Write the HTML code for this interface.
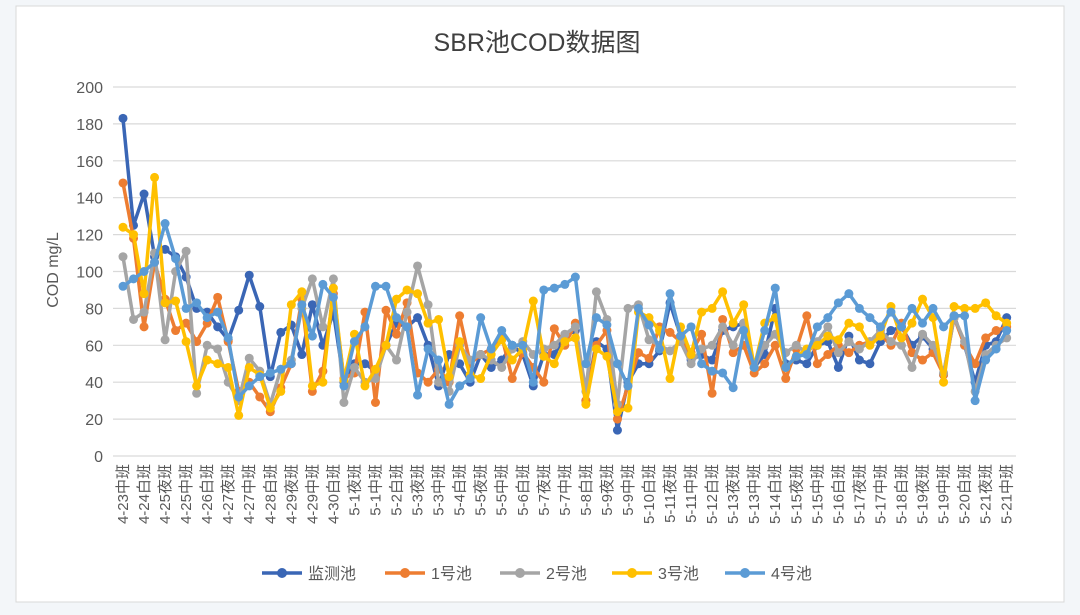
<!DOCTYPE html>
<html><head><meta charset="utf-8"><style>
html,body{margin:0;padding:0;background:#fff;}
body{width:1080px;height:615px;overflow:hidden;font-family:"Liberation Sans","Noto Sans CJK SC",sans-serif;}
</style></head><body>
<svg id="s" width="1080" height="615" xmlns="http://www.w3.org/2000/svg" style="position:absolute;left:0;top:0">
<rect x="0" y="0" width="1080" height="615" fill="#f3f6f9"/>
<rect x="16" y="6" width="1048" height="596" fill="#fff" stroke="#d9d9d9" stroke-width="1"/>
<text x="537" y="51" text-anchor="middle" font-size="25" fill="#404040" font-family="Liberation Sans,'Noto Sans CJK SC',sans-serif">SBR池COD数据图</text>
<text transform="translate(58,270) rotate(-90)" text-anchor="middle" font-size="16" fill="#595959" font-family="Liberation Sans,'Noto Sans CJK SC',sans-serif">COD mg/L</text>
<g id="g"></g>
</svg>
<script>
const NS="http://www.w3.org/2000/svg";
const g=document.getElementById('g');
function el(t,a,txt){const e=document.createElementNS(NS,t);for(const k in a)e.setAttribute(k,a[k]);if(txt!==undefined)e.textContent=txt;g.appendChild(e);return e;}
const y0=456,step=36.9/20;
const Y=v=>y0-v*step;
for(let v=0;v<=200;v+=20){
  el('line',{x1:113,x2:1016,y1:Y(v),y2:Y(v),stroke:'#d9d9d9','stroke-width':1.2});
  el('text',{x:103,y:Y(v)+6,'text-anchor':'end','font-size':16,fill:'#595959'},String(v));
}
const X=i=>123+i*10.52;
const D={
b:[183,125,142,108,112,108,97,80,78,70,63,79,98,81,43,67,71,55,82,60,78,40,50,50,46,60,72,70,75,60,38,55,50,40,55,48,52,60,55,38,55,55,65,68,30,62,58,14,40,50,50,57,83,65,52,55,52,68,70,72,48,55,80,50,52,50,60,62,48,65,52,50,62,68,70,60,65,58,44,76,60,40,60,62,75],
o:[148,118,70,105,85,68,72,62,72,86,62,35,40,32,24,37,50,85,35,46,88,42,45,78,29,79,66,83,45,40,47,40,76,50,55,58,65,42,56,48,40,69,60,72,30,60,68,20,38,56,53,70,67,62,56,66,34,74,56,60,45,50,60,42,58,76,50,55,60,56,60,62,66,60,72,56,52,56,44,75,60,50,64,68,70],
gr:[108,74,78,110,63,100,111,34,60,58,40,30,53,46,28,47,52,80,96,70,96,29,48,40,42,60,52,78,103,82,40,35,60,52,55,52,48,58,62,55,58,60,66,70,35,89,74,28,80,82,63,60,57,62,50,58,60,70,60,72,48,60,66,56,60,56,62,70,56,62,58,62,68,62,60,48,66,60,45,75,62,35,55,60,64],
y:[124,120,88,151,83,84,62,38,52,50,48,22,48,44,26,35,82,89,38,40,91,41,66,38,47,60,85,90,88,72,74,43,62,44,42,55,63,52,58,84,54,50,62,64,28,58,54,24,26,78,75,68,42,70,55,78,80,89,72,82,48,72,75,48,54,58,60,65,63,72,70,60,65,81,64,72,85,75,40,81,80,80,83,76,72],
l:[92,96,100,105,126,107,80,83,75,78,64,32,38,43,45,47,50,82,65,93,86,38,62,70,92,92,75,70,33,58,52,28,38,42,75,58,68,60,60,40,90,91,93,97,50,75,71,50,38,80,71,58,88,65,70,50,46,45,37,68,48,68,91,48,54,55,70,75,83,88,80,75,70,78,70,80,72,80,70,76,76,30,52,58,68]};
const C={o:'#ED7D31',gr:'#A5A5A5',y:'#FFC000',l:'#5B9BD5',b:'#3A66B5'};
['b','o','gr','y','l'].forEach(k=>{
  const pts=D[k].map((v,i)=>X(i).toFixed(1)+','+Y(v).toFixed(1)).join(' ');
  el('polyline',{points:pts,fill:'none',stroke:C[k],'stroke-width':3.5,'stroke-linejoin':'round'});
  D[k].forEach((v,i)=>el('circle',{cx:X(i),cy:Y(v),r:4.5,fill:C[k]}));
});
const labs=["4-23中班","4-24白班","4-25夜班","4-25中班","4-26白班","4-27夜班","4-27中班","4-28白班","4-29夜班","4-29中班","4-30白班","5-1夜班","5-1中班","5-2白班","5-3夜班","5-3中班","5-4白班","5-5夜班","5-5中班","5-6白班","5-7夜班","5-7中班","5-8白班","5-9夜班","5-9中班","5-10白班","5-11夜班","5-11中班","5-12白班","5-13夜班","5-13中班","5-14白班","5-15夜班","5-15中班","5-16白班","5-17夜班","5-17中班","5-18白班","5-19夜班","5-19中班","5-20白班","5-21夜班","5-21中班"];
labs.forEach((t,k)=>{const x=X(2*k)+5;
  el('text',{transform:`translate(${x},464) rotate(-90)`,'text-anchor':'end','font-size':15,fill:'#595959'},t);});
const leg=[['b','监测池',262],['o','1号池',385],['gr','2号池',500],['y','3号池',612],['l','4号池',725]];
leg.forEach(([k,t,x])=>{
  el('line',{x1:x,x2:x+40,y1:573,y2:573,stroke:C[k],'stroke-width':3.5});
  el('circle',{cx:x+20,cy:573,r:5,fill:C[k]});
  el('text',{x:x+46,y:579,'font-size':16,fill:'#595959'},t);
});
</script>
</body></html>
